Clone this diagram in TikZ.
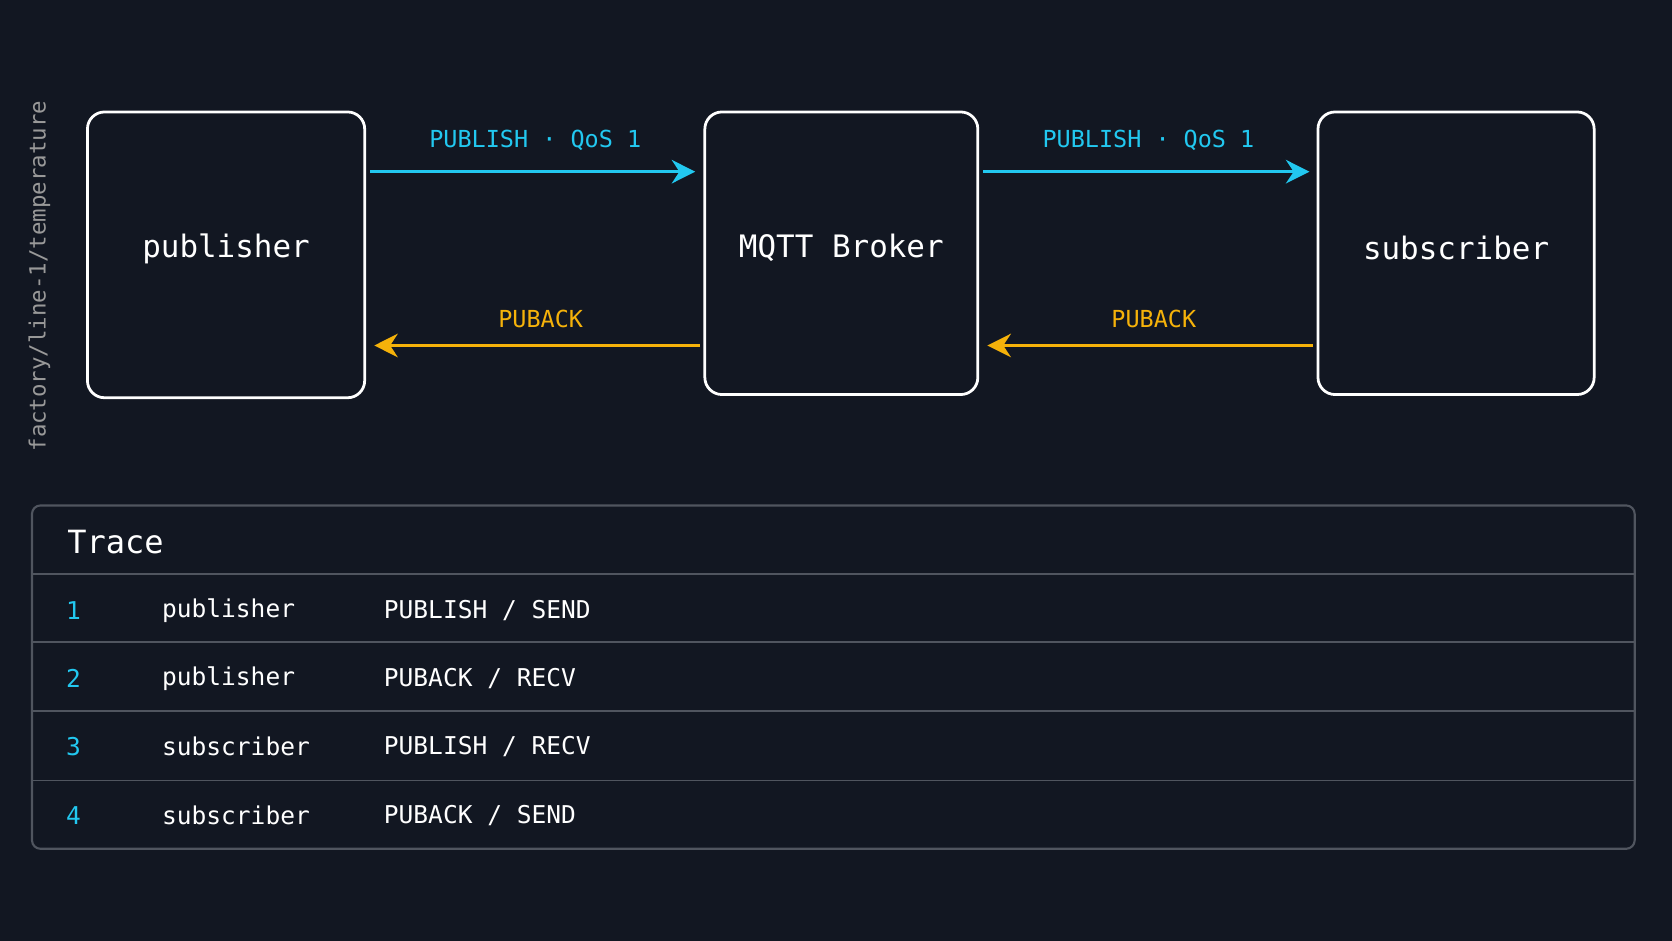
\documentclass[tikz,border=0pt]{standalone}
\usepackage{fontspec}
\setmainfont{DejaVu Sans Mono}
\usetikzlibrary{arrows.meta}
\definecolor{bg}{HTML}{121722}
\definecolor{cy}{HTML}{22C8F0}
\definecolor{or}{HTML}{F5B20A}
\definecolor{gr}{HTML}{50555F}
\begin{document}
\begin{tikzpicture}[x=0.5pt,y=-0.5pt,
 box/.style={draw=white,line width=1.3pt,rounded corners=8pt,fill=bg,text=white,font=\fontsize{14.5}{16}\selectfont,inner sep=0pt},
 pub/.style={cy,line width=1.6pt,-{Stealth[length=11pt,width=11pt]}},
 ack/.style={or,line width=1.6pt,-{Stealth[length=11pt,width=11pt]}},
 lblc/.style={text=cy,font=\fontsize{11}{13}\selectfont},
 lblo/.style={text=or,font=\fontsize{11}{13}\selectfont},
 cell/.style={text=white,font=\fontsize{11.5}{14}\selectfont,anchor=west},
 num/.style={text=cy,font=\fontsize{11.5}{14}\selectfont,anchor=west},
 rule/.style={gr,line width=0.8pt}]
\fill[bg] (0,0) rectangle (1568,882);
\useasboundingbox (0,0) rectangle (1568,882);
\node[box,minimum width=130pt,minimum height=134pt] (p) at (212,239) {};
\node[box,minimum width=128pt,minimum height=132.5pt] (b) at (789,237.5) {};
\node[box,minimum width=129.5pt,minimum height=132.5pt] (s) at (1365.5,237.5) {};
\node[text=white,font=\fontsize{14.5}{16}\selectfont] (pl) at (212,233) {publisher};
\node[text=white,font=\fontsize{14.5}{16}\selectfont] (bl) at (789,232) {MQTT Broker};
\node[text=white,font=\fontsize{14.5}{16}\selectfont] (sl) at (1365.5,233) {subscriber};
\coordinate (p1) at (347,161); \coordinate (b1) at (652,161);
\coordinate (b2) at (922,161); \coordinate (s1) at (1228,161);
\coordinate (b3) at (656,324); \coordinate (p2) at (351,324);
\coordinate (s2) at (1231,324); \coordinate (b4) at (926,324);
\draw[pub] (p1) -- (b1); \draw[pub] (b2) -- (s1);
\draw[ack] (b3) -- (p2); \draw[ack] (s2) -- (b4);
\node[lblc] (l1) at (502,132) {PUBLISH · QoS 1};
\node[lblc] (l2) at (1077,132) {PUBLISH · QoS 1};
\node[lblo] (l3) at (507,299) {PUBACK};
\node[lblo] (l4) at (1082,299) {PUBACK};
\node[rotate=90,text=gray!80,font=\fontsize{10.5}{12}\selectfont] (t) at (37,259) {factory/line-1/temperature};
\draw[gr,line width=1pt,rounded corners=4pt,fill=bg] (30,474) rectangle (1533,796);
\node[anchor=west,text=white,font=\fontsize{15}{17}\selectfont] (h) at (56,508) {Trace};
\foreach \y in {538,602,667,732}{\draw[rule] (30,\y) -- (1533,\y);}
\node[num] (n1) at (55,573) {1}; \node[cell] (a1) at (145,573) {publisher}; \node[cell] (m1) at (353,573) {PUBLISH / SEND};
\node[num] (n2) at (55,636) {2}; \node[cell] (a2) at (145,636) {publisher}; \node[cell] (m2) at (353,636) {PUBACK / RECV};
\node[num] (n3) at (55,700) {3}; \node[cell] (a3) at (145,700) {subscriber}; \node[cell] (m3) at (353,700) {PUBLISH / RECV};
\node[num] (n4) at (55,765) {4}; \node[cell] (a4) at (145,765) {subscriber}; \node[cell] (m4) at (353,765) {PUBACK / SEND};
\end{tikzpicture}
\end{document}
